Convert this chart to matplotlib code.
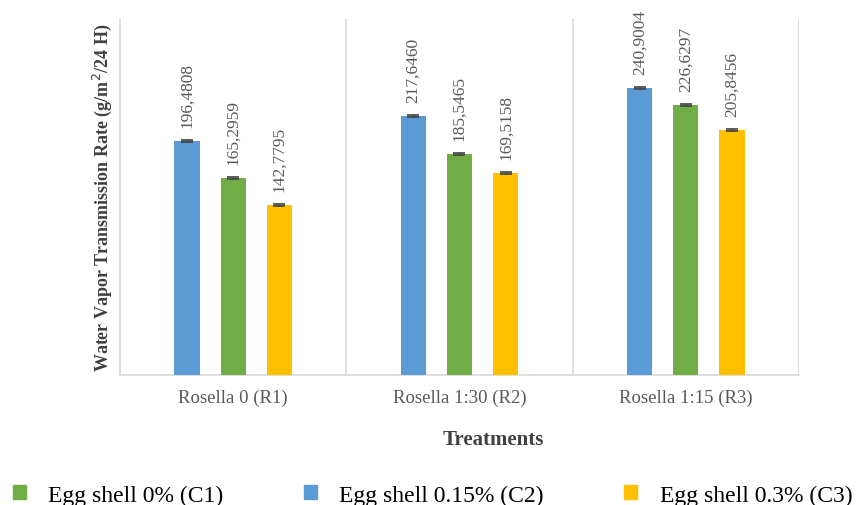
import matplotlib
matplotlib.use("Agg")
import matplotlib.pyplot as plt
from matplotlib.patches import Patch
import numpy as np

categories = ["Rosella 0 (R1)", "Rosella 1:30 (R2)", "Rosella 1:15 (R3)"]
c2_values = [196.4808, 217.6460, 240.9004]
c1_values = [165.2959, 185.5465, 226.6297]
c3_values = [142.7795, 169.5158, 205.8456]
errors = [0.8, 0.8, 0.8]
label_c2 = ["196,4808", "217,6460", "240,9004"]
label_c1 = ["165,2959", "185,5465", "226,6297"]
label_c3 = ["142,7795", "169,5158", "205,8456"]
legend_labels = ["Egg shell 0% (C1)", "Egg shell 0.15% (C2)", "Egg shell 0.3% (C3)"]

colors = {"C2": "#5B9BD5", "C1": "#70AD47", "C3": "#FFC000"}

plt.rcParams['font.family'] = ['Liberation Serif', 'DejaVu Serif']

fig = plt.figure(figsize=(8.56, 5.06), dpi=100)
ax = fig.add_axes([120/856, 1-376/506, (799-120)/856, (376-20)/506])

x = np.arange(len(categories))
w = 0.111
off = 0.204
series = [(c2_values, label_c2, colors["C2"], -off),
          (c1_values, label_c1, colors["C1"], 0.0),
          (c3_values, label_c3, colors["C3"], off)]
for vals, labs, col, o in series:
    ax.bar(x + o, vals, width=w, color=col, zorder=3)
    ax.errorbar(x + o, vals, yerr=errors, fmt='none', ecolor='#404040',
                elinewidth=1, capsize=4, capthick=1.2, zorder=4)
    for xi, v, t in zip(x + o, vals, labs):
        ax.annotate(t, (xi, v), xytext=(0, 10), textcoords='offset points',
                    rotation=90, ha='center', va='bottom', fontsize=12.5,
                    color='#595959', annotation_clip=False)

ax.set_xlim(-0.5, 2.5)
ax.set_ylim(0, 299)
ax.set_yticks([])
ax.set_xticks(x)
ax.set_xticklabels(categories, fontsize=13.5, color='#595959')
ax.tick_params(axis='x', length=0, pad=10)
for s in ['top', 'right']:
    ax.spines[s].set_visible(False)
for s in ['left', 'bottom']:
    ax.spines[s].set_color('#d9d9d9')
    ax.spines[s].set_linewidth(1.2)
for xv in [0.5, 1.5, 2.5]:
    ax.axvline(xv, color='#d9d9d9', lw=1.2, zorder=1)

ax.set_xlabel("Treatments", fontsize=15, fontweight='bold', color='#404040')
ax.xaxis.set_label_coords((493-120)/679, -(430-376)/356)
ax.set_ylabel("Water Vapor Transmission Rate (g/m$^2$/24 H)", fontsize=13,
              fontweight='bold', color='#404040')
ax.yaxis.set_label_coords(-(120-114)/679, 0.5)

handles = [Patch(color=colors["C1"]), Patch(color=colors["C2"]), Patch(color=colors["C3"])]
fig.legend(handles, legend_labels, loc='center left', bbox_to_anchor=(13/856, 1-496/506),
           ncol=3, frameon=False, fontsize=17, handlelength=0.55, handleheight=0.55,
           handletextpad=0.95, columnspacing=3.4, borderpad=0, borderaxespad=0)

fig.savefig("out.png", dpi=100)
